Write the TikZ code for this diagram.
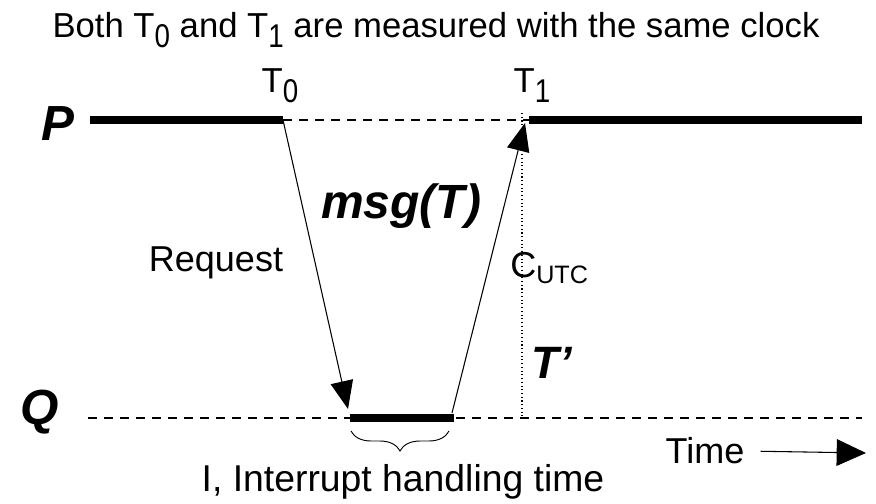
\documentclass[tikz,border=0pt]{standalone}
\usepackage{fontspec}
\setmainfont{Liberation Sans}
\usetikzlibrary{arrows.meta,decorations.pathreplacing}

% tall, lowered index digits as in T0 and T1
\newcommand\lowidx[1]{\raisebox{-0.3em}{\scalebox{0.8}[0.95]{#1}}}

\begin{document}
\begin{tikzpicture}[
  x=0.75pt, y=-0.75pt,
  >={Triangle[length=21pt,width=17pt]},
  lbl/.style={font=\fontsize{27}{30}\selectfont, inner sep=0pt},
  tick/.style={font=\fontsize{26}{28}\selectfont, inner sep=0pt, anchor=base},
  big/.style={font=\fontsize{37}{40}\selectfont\bfseries\itshape, inner sep=0pt, anchor=base},
  busy/.style={line width=6pt},
  idle/.style={dash pattern=on 7pt off 5pt, line width=0.8pt},
  msg/.style={->, line width=0.8pt}
]
\useasboundingbox (0,0) rectangle (876,504);

\node[tick] (title) at (436,37)
  {Both T\lowidx{0} and T\lowidx{1} are measured with the same clock};

% time lines of P and Q
\coordinate (p0) at (90,120);
\coordinate (t0) at (283,120);
\coordinate (t1) at (529,120);
\coordinate (p1) at (862,120);
\coordinate (q0) at (88,418);
\coordinate (qa) at (350,418);
\coordinate (qb) at (454,418);
\coordinate (q1) at (862,418);

\draw[busy] (p0) -- (t0);
\draw[idle] (t0) -- (t1);
\draw[busy] (t1) -- (p1);
\draw[idle] (q0) -- (q1);
\draw[busy] (qa) -- (qb);

\node[big] (P) at (58,140) {P};
\node[big] (Q) at (40,424) {Q};
\node[tick] (lt0) at (280,92) {T\lowidx{0}};
\node[tick] (lt1) at (532,92) {T\lowidx{1}};

% messages
\coordinate (qin) at (348,409);
\coordinate (qout) at (452,413);
\coordinate (pin) at (525,123);
\draw[msg] (t0) -- (qin);
\draw[msg] (qout) -- (pin);
\coordinate (dtop) at (522,113);
\coordinate (dbot) at (522,418);
\draw[dotted, line width=0.8pt] (dtop) -- (dbot);

\node[big, font=\fontsize{36}{38}\selectfont\bfseries\itshape] (msgT) at (401,218) {msg(T)};
\node[lbl] (req) at (216,263) {Request};
\node[lbl, anchor=west] (cutc) at (510,268) {C\textsubscript{UTC}};
\node[big, font=\fontsize{34}{36}\selectfont\bfseries\itshape] (Tp) at (552,378) {T'};

% interrupt handling
\coordinate (ba) at (351,431);
\coordinate (bb) at (449,431);
\draw[decorate, decoration={brace, mirror, amplitude=15pt}, line width=0.7pt] (ba) -- (bb);
\node[lbl, font=\fontsize{28}{30}\selectfont] (intr) at (403,482) {I, Interrupt handling time};

% time direction
\node[lbl] (time) at (705,451) {Time};
\coordinate (tend) at (866,453);
\draw[->, line width=0.8pt, >={Triangle[length=22pt,width=20pt]}, shorten <=12pt] (time.east) -- (tend);

\end{tikzpicture}
\end{document}
